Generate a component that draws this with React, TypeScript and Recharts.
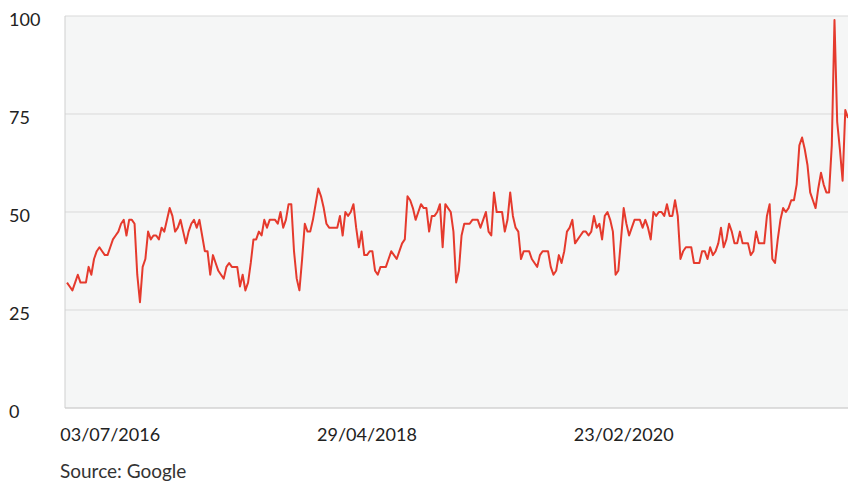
import { LineChart, Line, XAxis, YAxis, CartesianGrid } from "recharts";

// weekly interest (index 0 = week of 13/03/2016)
const values = [
  32, 31, 30, 32, 34, 32, 32, 32, 36, 34,
  38, 40, 41, 40, 39, 39, 41, 43, 44, 45,
  47, 48, 44, 48, 48, 47, 34, 27, 36, 38,
  45, 43, 44, 44, 43, 46, 45, 48, 51, 49,
  45, 46, 48, 45, 42, 45, 47, 48, 46, 48,
  44, 40, 40, 34, 39, 37, 35, 34, 33, 36,
  37, 36, 36, 36, 31, 34, 30, 32, 37, 43,
  43, 45, 44, 48, 46, 48, 48, 48, 47, 50,
  46, 48, 52, 52, 40, 33, 30, 38, 47, 45,
  45, 48, 52, 56, 54, 51, 47, 46, 46, 46,
  46, 49, 44, 50, 49, 50, 52, 46, 41, 45,
  39, 39, 40, 40, 35, 34, 36, 36, 36, 38,
  40, 39, 38, 40, 42, 43, 54, 53, 51, 48,
  50, 52, 51, 51, 45, 49, 49, 50, 52, 41,
  52, 51, 50, 45, 32, 35, 44, 47, 47, 47,
  48, 48, 48, 46, 48, 50, 45, 44, 55, 50,
  50, 50, 45, 48, 55, 49, 46, 45, 38, 40,
  40, 40, 38, 37, 36, 39, 40, 40, 40, 36,
  34, 35, 39, 37, 40, 45, 46, 48, 42, 43,
  44, 45, 45, 44, 45, 49, 46, 47, 43, 49,
  50, 48, 45, 34, 35, 43, 51, 47, 44, 46,
  48, 48, 48, 46, 48, 46, 43, 50, 49, 50,
  50, 49, 52, 49, 49, 53, 49, 38, 40, 41,
  41, 41, 37, 37, 37, 40, 40, 38, 41, 39,
  40, 42, 46, 41, 43, 47, 45, 42, 42, 45,
  42, 42, 42, 39, 40, 45, 42, 42, 42, 49,
  52, 38, 37, 43, 48, 51, 50, 51, 53, 53,
  57, 67, 69, 66, 62, 55, 53, 51, 56, 60,
  57, 55, 55, 67, 99, 73, 66, 58, 76, 74,
];

const xTickIdx = [16, 111, 206];
const xTickLabels = ["03/07/2016", "29/04/2018", "23/02/2020"];
const yTicks = [0, 25, 50, 75, 100];

const data = values.map((v, i) => ({ i, v }));

const FONT = "Lato, 'Open Sans', sans-serif";

function XTick(props: any) {
  const { x, payload } = props;
  const k = xTickIdx.indexOf(payload.value);
  return (
    <text x={x} y={433} textAnchor="middle" fill="#222" fontSize={18} fontFamily={FONT}>
      {k >= 0 ? xTickLabels[k] : ""}
    </text>
  );
}

function YTick(props: any) {
  const { y, payload } = props;
  return (
    <text x={1} y={y + 10} textAnchor="start" fill="#222" fontSize={18} fontFamily={FONT}>
      {payload.value}
    </text>
  );
}

export default function App() {
  return (
    <div
      style={{
        position: "relative",
        width: 848,
        height: 481,
        boxSizing: "border-box",
        paddingLeft: 8,
        paddingTop: 8,
        overflow: "hidden",
        fontFamily: FONT,
      }}
    >
      <style>{"body{margin:0}"}</style>
      <LineChart
        width={840}
        height={440}
        data={data}
        margin={{ top: 8, right: 0, bottom: 0, left: 0 }}
      >
        <CartesianGrid vertical={false} fill="#f5f6f6" stroke="#d9d9d9" />
        <XAxis
          dataKey="i"
          type="number"
          domain={[0, values.length - 1]}
          ticks={xTickIdx}
          interval={0}
          height={40}
          padding={{ left: 2, right: 0 }}
          tickLine={false}
          axisLine={{ stroke: "#cfcfcf" }}
          tick={<XTick />}
        />
        <YAxis
          domain={[0, 100]}
          ticks={yTicks}
          interval={0}
          width={57}
          tickLine={false}
          axisLine={{ stroke: "#cfcfcf" }}
          tick={<YTick />}
        />
        <Line
          type="linear"
          dataKey="v"
          stroke="#e53a2d"
          strokeWidth={2}
          strokeLinejoin="round"
          dot={false}
          isAnimationActive={false}
        />
      </LineChart>
      <div
        style={{
          position: "absolute",
          left: 60,
          top: 461,
          fontSize: 19,
          lineHeight: "20px",
          color: "#333",
        }}
      >
        Source: Google
      </div>
    </div>
  );
}
